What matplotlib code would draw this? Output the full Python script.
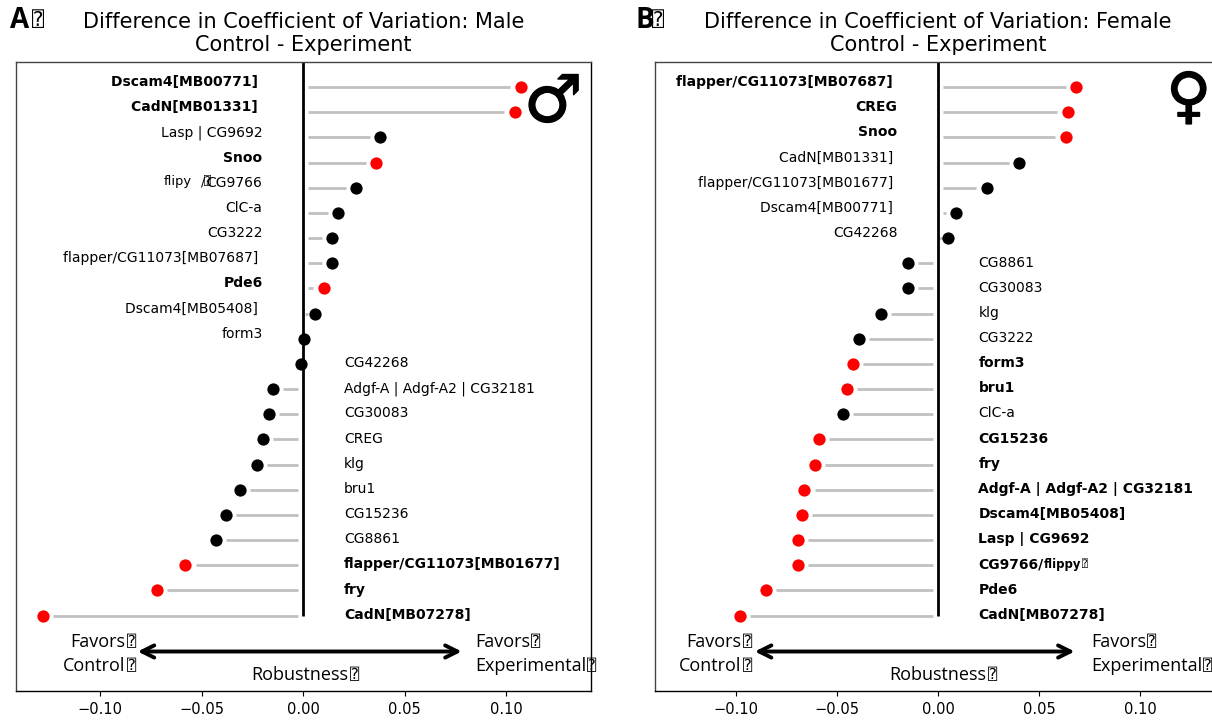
import matplotlib
matplotlib.use("Agg")
import matplotlib.pyplot as plt
import matplotlib.patheffects as pe
import warnings, logging
logging.getLogger('matplotlib.font_manager').setLevel(logging.ERROR)
warnings.filterwarnings("ignore")

TOFU = "\u2370"

male_labels = ["Dscam4[MB00771] ", "CadN[MB01331] ", "Lasp | CG9692", "Snoo", "flipy  /CG9766", "ClC-a", "CG3222",
               "flapper/CG11073[MB07687] ", "Pde6", "Dscam4[MB05408] ", "form3", "CG42268",
               "Adgf-A | Adgf-A2 | CG32181", "CG30083", "CREG", "klg", "bru1", "CG15236", "CG8861",
               "flapper/CG11073[MB01677]", "fry", "CadN[MB07278]"]
male_values = [0.107, 0.104, 0.038, 0.036, 0.026, 0.017, 0.014, 0.014, 0.010, 0.006, 0.0005, -0.001,
               -0.015, -0.017, -0.020, -0.023, -0.031, -0.038, -0.043, -0.058, -0.072, -0.128]
male_signif = [1, 1, 0, 1, 0, 0, 0, 0, 1, 0, 0, 0, 0, 0, 0, 0, 0, 0, 0, 1, 1, 1]

female_labels = ["flapper/CG11073[MB07687] ", "CREG", "Snoo", "CadN[MB01331] ", "flapper/CG11073[MB01677] ",
                 "Dscam4[MB00771] ", "CG42268", "CG8861", "CG30083", "klg", "CG3222", "form3", "bru1", "ClC-a",
                 "CG15236", "fry", "Adgf-A | Adgf-A2 | CG32181", "Dscam4[MB05408]", "Lasp | CG9692",
                 "CG9766/flippy", "Pde6", "CadN[MB07278]"]
female_values = [0.068, 0.064, 0.063, 0.040, 0.024, 0.009, 0.005, -0.015, -0.015, -0.028, -0.039, -0.042,
                 -0.045, -0.047, -0.059, -0.061, -0.066, -0.067, -0.069, -0.069, -0.085, -0.098]
female_signif = [1, 1, 1, 0, 0, 0, 0, 0, 0, 0, 0, 1, 1, 0, 1, 1, 1, 1, 1, 1, 1, 1]

xticks = [-0.10, -0.05, 0.0, 0.05, 0.10]
W, H = 1212, 721
SIDE = "Open Sans"
BOX = ["DejaVu Sans Mono"]
GENE = ["DejaVu Sans"]


def px_axes(fig, l, r, t, b):
    return fig.add_axes([l / W, 1 - b / H, (r - l) / W, (b - t) / H])


def box_after(artist, size, dx=0.5, **kw):
    """Small question-box sign right after a text."""
    return artist.axes.annotate(TOFU, xy=(1, 0.5), xycoords=artist, xytext=(dx, 0), textcoords="offset points",
                                family=BOX, fontsize=size, va="center", ha="left", annotation_clip=False, **kw)


def side_text(ax, x, y, s, ha):
    # a right-aligned label keeps the sign inside its right edge
    off = -8 if ha == "right" else 0
    t = ax.annotate(s, xy=(x, y), xycoords="data", xytext=(off, 0), textcoords="offset points",
                    family=SIDE, fontsize=13, ha=ha, va="center", annotation_clip=False)
    box_after(t, 11, dx=1)


def panel(ax, labels, values, signif, xlim, title, arrow, fav_l, fav_r, rob_x):
    ax.set_xlim(*xlim)
    ax.set_ylim(24, -1)
    for i, (lab, v, s) in enumerate(zip(labels, values, signif)):
        sgn = 1 if v > 0 else -1
        if abs(v) > 0.002:
            ax.plot([sgn * 0.0025, v - sgn * 0.005], [i, i], color="#c0c0c0", lw=2.0, zorder=1, solid_capstyle="butt")
        ax.scatter([v], [i], s=78, color="red" if s else "black", zorder=3, linewidths=0)
        weight = "bold" if s else "normal"
        x = -0.02 if v > 0 else 0.02
        ha = "right" if v > 0 else "left"
        dy = 0.2 if v > 0 else 0.03
        if lab == "flipy  /CG9766":
            ax.text(-0.0685, i - 0.26, "flipy", family=GENE, fontsize=9.4, ha="left", va="center")
            t0 = ax.text(-0.0505, i - 0.25, "/", family=GENE, fontsize=9.0, ha="left", va="center")
            box_after(t0, 8.5, dx=-0.5)
            ax.text(x, i - dy, "CG9766", family=GENE, fontsize=10, ha=ha, va="center")
        elif lab == "CG9766/flippy":
            t1 = ax.text(x, i - dy, "CG9766/", family=GENE, fontsize=10, ha=ha, va="center", weight="bold")
            t2 = ax.annotate("flippy", xy=(1, 0.5), xycoords=t1, xytext=(0, 0), textcoords="offset points",
                             family=GENE, fontsize=8.4, va="center", ha="left", weight="bold")
            box_after(t2, 7)
        else:
            ax.text(x, i - dy, lab, family=GENE, fontsize=10, ha=ha, va="center", weight=weight)
    ax.plot([0, 0], [-1, 21], color="black", lw=2, zorder=2, solid_capstyle="butt")
    ax.annotate("", xy=(arrow[0], 22.43), xytext=(arrow[1], 22.43),
                arrowprops=dict(arrowstyle="<->", color="black", lw=2.8, mutation_scale=22,
                                shrinkA=0, shrinkB=0))
    side_text(ax, fav_l, 22.05, "Favors", "right")
    side_text(ax, fav_l, 23.0, "Control", "right")
    side_text(ax, fav_r, 22.05, "Favors", "left")
    side_text(ax, fav_r, 23.0, "Experimental", "left")
    side_text(ax, rob_x, 23.35, "Robustness", "center")
    ax.set_yticks([])
    ax.set_xticks(xticks)
    ax.tick_params(axis="x", labelsize=10.5, length=3.5, width=0.8, pad=4.3)
    for sp in ax.spines.values():
        sp.set_linewidth(1.0)
    ax.spines["top"].set_color("#444444")
    ax.spines["left"].set_color("#444444")
    ax.set_title(title, fontsize=15, pad=8, linespacing=1.2)


fig = plt.figure(figsize=(W / 100, H / 100), dpi=100)
axA = px_axes(fig, 16, 590.5, 62, 691)
axB = px_axes(fig, 655, 1221, 62, 691)

panel(axA, male_labels, male_values, male_signif, (-0.1414, 0.1414),
      "Difference in Coefficient of Variation: Male\nControl - Experiment",
      (-0.0815, 0.078), -0.082, 0.0845, -0.0015)
panel(axB, female_labels, female_values, female_signif, (-0.1398, 0.1398),
      "Difference in Coefficient of Variation: Female\nControl - Experiment",
      (-0.0905, 0.0675), -0.0915, 0.0755, 0.0)

stroke = [pe.withStroke(linewidth=1.0, foreground="black")]
axA.text(0.935, 0.934, "\u2642", transform=axA.transAxes, fontsize=47, weight="bold", ha="center", va="center",
         path_effects=stroke)
axB.text(0.943, 0.94, "\u2640", transform=axB.transAxes, fontsize=44, weight="bold", ha="center", va="center",
         path_effects=stroke)

for x0, letter, gap in ((10, "A", 22), (635, "B", 17)):
    fig.text(x0 / W, 1 - 20 / H, letter, family=SIDE, weight="bold", fontsize=20, ha="left", va="center")
    fig.text((x0 + gap) / W, 1 - 20 / H, TOFU, family=BOX, fontsize=14.4, ha="left", va="center")

fig.savefig("out.png", dpi=100)
